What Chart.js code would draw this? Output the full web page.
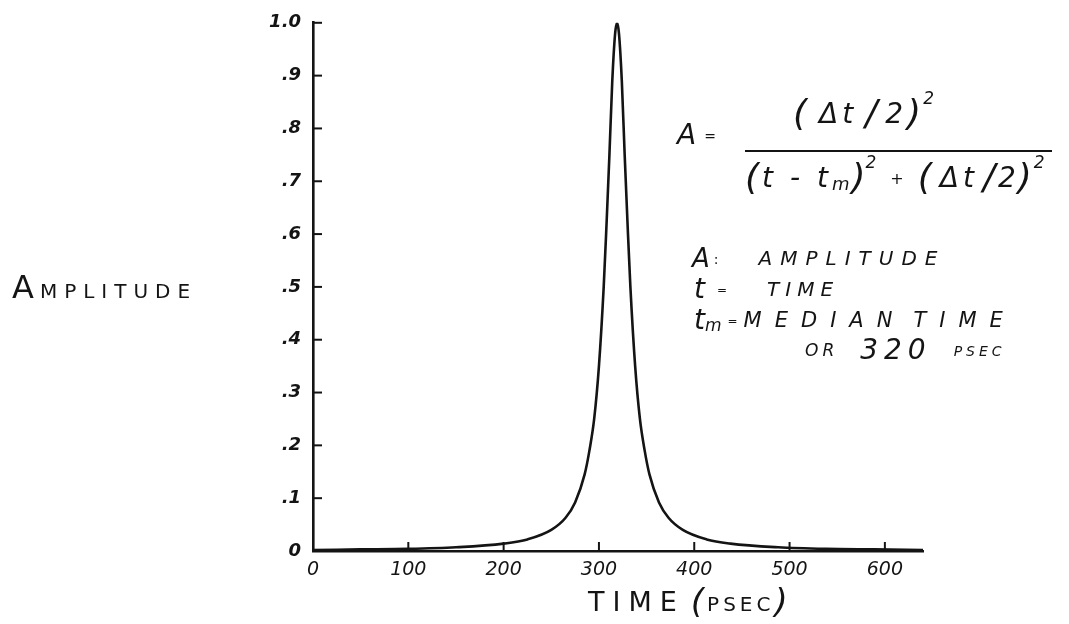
<!DOCTYPE html>
<html>
<head>
<meta charset="utf-8">
<style>
  html, body { margin: 0; padding: 0; background: #fff; }
  canvas { display: block; }
</style>
<script src="https://cdn.jsdelivr.net/npm/chart.js@4/dist/chart.umd.min.js"></script>
</head>
<body>
<canvas id="chart" width="1069" height="624"></canvas>
<script>
// values (time in psec, amplitude 0..1)
const timePs = [0, 50, 100, 150, 200, 225, 250, 265, 275, 285, 290, 295, 300, 305, 308, 311, 314, 317, 319,
                321, 324, 327, 330, 333, 338, 343, 348, 353, 363, 373, 388, 413, 438, 488, 538, 588, 640];
const amplitude = [0.002, 0.003, 0.004, 0.007, 0.014, 0.022, 0.04, 0.063, 0.092, 0.145, 0.19, 0.25, 0.35, 0.5, 0.62, 0.75, 0.89, 0.98, 1.0,
                   0.98, 0.89, 0.75, 0.62, 0.5, 0.35, 0.25, 0.19, 0.145, 0.092, 0.063, 0.04, 0.022, 0.014, 0.007, 0.004, 0.003, 0.002];

const xTicks = [0, 100, 200, 300, 400, 500, 600];
const yTicks = [0, 0.1, 0.2, 0.3, 0.4, 0.5, 0.6, 0.7, 0.8, 0.9, 1.0];
const yTickLabels = ['0', '.1', '.2', '.3', '.4', '.5', '.6', '.7', '.8', '.9', '1.0'];

const INK = '#141414';
const FONT = '"DejaVu Sans"';

// draw a row of text pieces one after another (different sizes / offsets)
function drawRuns(ctx, x, y, runs) {
    let cx = x;
    runs.forEach(r => {
        ctx.font = (r.italic === false ? '' : 'italic ') + r.size + 'px ' + FONT;
        ctx.letterSpacing = (r.spacing || 0) + 'px';
        ctx.fillText(r.text, cx, y + (r.dy || 0));
        cx += ctx.measureText(r.text).width + (r.gap || 0);
    });
    ctx.letterSpacing = '0px';
}

const inwardTicks = {
    id: 'inwardTicks',
    afterDraw(chart) {
        const ctx = chart.ctx;
        const xs = chart.scales.x, ys = chart.scales.y;
        const area = chart.chartArea;
        ctx.save();
        ctx.strokeStyle = INK;
        ctx.lineWidth = 2;
        xTicks.forEach(v => {
            if (v === 0) return;
            const px = xs.getPixelForValue(v);
            ctx.beginPath();
            ctx.moveTo(px, area.bottom);
            ctx.lineTo(px, area.bottom - 9);
            ctx.stroke();
        });
        yTicks.forEach(v => {
            if (v === 0) return;
            const py = ys.getPixelForValue(v);
            ctx.beginPath();
            ctx.moveTo(area.left, py);
            ctx.lineTo(area.left + 9, py);
            ctx.stroke();
        });
        ctx.restore();
    }
};

const notes = {
    id: 'notes',
    afterDraw(chart) {
        const ctx = chart.ctx;
        ctx.save();
        ctx.fillStyle = INK;
        ctx.strokeStyle = INK;
        ctx.textBaseline = 'middle';
        ctx.textAlign = 'left';

        // y axis title
        drawRuns(ctx, 12, 290, [
            { text: 'A', size: 32, italic: false, gap: 6 },
            { text: 'MPLITUDE', size: 20, italic: false, spacing: 7, dy: 3 }
        ]);

        // x axis title
        drawRuns(ctx, 588, 604, [
            { text: 'TIME', size: 27, italic: false, spacing: 8, gap: 6 },
            { text: '(', size: 34, gap: 3 },
            { text: 'PSEC', size: 20, italic: false, spacing: 4, dy: 2 },
            { text: ')', size: 34 }
        ]);

        // formula
        drawRuns(ctx, 677, 137, [
            { text: 'A', size: 28, gap: 8 },
            { text: '=', size: 14, italic: false }
        ]);
        drawRuns(ctx, 793, 116, [
            { text: '(', size: 36, gap: 12 },
            { text: 'Δt', size: 28, spacing: 4, gap: 8 },
            { text: '/', size: 36, gap: 8 },
            { text: '2', size: 28, gap: 4 },
            { text: ')', size: 36, gap: 2 },
            { text: '2', size: 17, dy: -16 }
        ]);
        ctx.lineWidth = 2;
        ctx.beginPath();
        ctx.moveTo(745, 151);
        ctx.lineTo(1052, 151);
        ctx.stroke();
        drawRuns(ctx, 745, 180, [
            { text: '(', size: 36, gap: 3 },
            { text: 't - t', size: 28, spacing: 4 },
            { text: 'm', size: 18, dy: 5, gap: 2 },
            { text: ')', size: 36 },
            { text: '2', size: 17, dy: -16, gap: 14 },
            { text: '+', size: 16, italic: false, gap: 14 },
            { text: '(', size: 36, gap: 8 },
            { text: 'Δt', size: 28, spacing: 4, gap: 5 },
            { text: '/', size: 36, gap: 3 },
            { text: '2', size: 28, gap: 2 },
            { text: ')', size: 36, gap: 2 },
            { text: '2', size: 17, dy: -16 }
        ]);

        // legend of symbols
        drawRuns(ctx, 692, 260, [
            { text: 'A', size: 26, gap: 4 },
            { text: ':', size: 14, italic: false, gap: 40 },
            { text: 'AMPLITUDE', size: 20, spacing: 8 }
        ]);
        drawRuns(ctx, 694, 291, [
            { text: 't', size: 28, gap: 12 },
            { text: '=', size: 12, italic: false, gap: 40 },
            { text: 'TIME', size: 20, spacing: 6 }
        ]);
        drawRuns(ctx, 694, 322, [
            { text: 't', size: 28 },
            { text: 'm', size: 17, dy: 5, gap: 6 },
            { text: '=', size: 12, italic: false, gap: 6 },
            { text: 'MEDIAN', size: 21, spacing: 13, gap: 8 },
            { text: 'TIME', size: 21, spacing: 13 }
        ]);
        drawRuns(ctx, 805, 352, [
            { text: 'OR', size: 17, spacing: 4, gap: 22 },
            { text: '320', size: 28, spacing: 6, gap: 22 },
            { text: 'PSEC', size: 14, spacing: 4 }
        ]);
        ctx.restore();
    }
};

new Chart(document.getElementById('chart'), {
    type: 'line',
    data: {
        datasets: [{
            data: timePs.map((t, i) => ({ x: t, y: amplitude[i] })),
            borderColor: INK,
            borderWidth: 2.6,
            pointRadius: 0,
            fill: false,
            cubicInterpolationMode: 'monotone'
        }]
    },
    options: {
        responsive: false,
        animation: false,
        layout: { padding: { top: 20, right: 146, left: 0, bottom: 0 } },
        plugins: {
            legend: { display: false },
            tooltip: { enabled: false }
        },
        scales: {
            x: {
                type: 'linear',
                min: 0,
                max: 640,
                afterBuildTicks: s => { s.ticks = xTicks.map(v => ({ value: v })); },
                afterFit: s => { s.height = 73; },
                grid: { display: true, drawOnChartArea: false, drawTicks: false },
                border: { display: true, color: INK, width: 2.6 },
                ticks: {
                    color: INK,
                    padding: 8,
                    maxRotation: 0,
                    font: { family: 'DejaVu Sans', size: 19, style: 'italic' }
                }
            },
            y: {
                min: 0,
                max: 1.0,
                afterBuildTicks: s => { s.ticks = yTicks.map(v => ({ value: v })); },
                afterFit: s => { s.width = 313; },
                grid: { display: true, drawOnChartArea: false, drawTicks: false },
                border: { display: true, color: INK, width: 2.6 },
                ticks: {
                    color: INK,
                    padding: 12,
                    font: { family: 'DejaVu Sans', size: 18, style: 'italic', weight: 'bold' },
                    callback: (v, i) => yTickLabels[i]
                }
            }
        }
    },
    plugins: [inwardTicks, notes]
});
</script>
</body>
</html>
